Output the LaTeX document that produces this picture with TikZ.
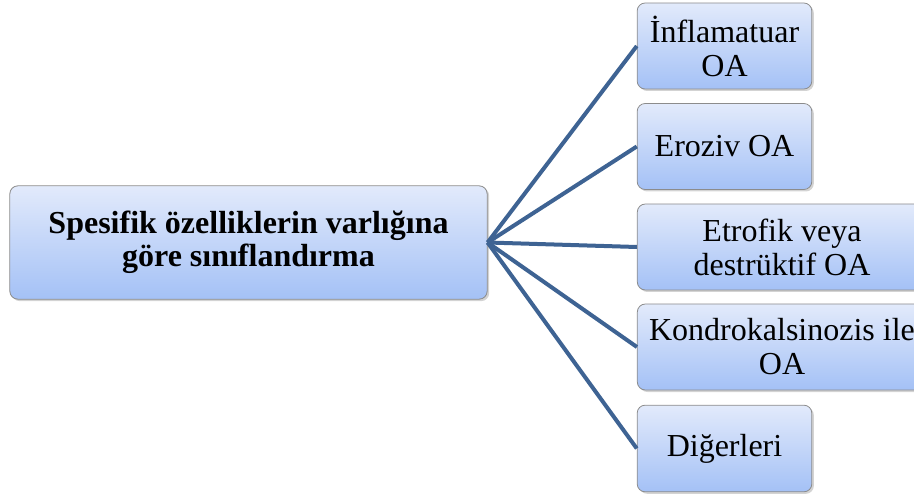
\documentclass[tikz,border=0pt]{standalone}
\usepackage{fontspec}
\setmainfont{Liberation Serif}
\usetikzlibrary{shadows}
\tikzset{
  oabox/.style={draw={rgb, 255:red, 140; green, 140; blue, 140 }, line width=0.6pt, rounded corners=6pt,
    top color={rgb, 255:red, 226; green, 234; blue, 251 }, bottom color={rgb, 255:red, 164; green, 193; blue, 246 },
    drop shadow={shadow xshift=1.5pt, shadow yshift=-1.5pt, opacity=0.35},
    align=center, inner sep=0pt, font=\fontsize{24}{25.5}\selectfont},
  oaline/.style={draw={rgb, 255:red, 62; green, 99; blue, 147 }, line width=3pt}
}
\begin{document}
\begin{tikzpicture}[x=0.75pt,y=0.75pt,yscale=-1,xscale=1]
\useasboundingbox (0,0) rectangle (914,495);
\clip (0,0) rectangle (914,495);
% Text Node
\node [oabox, minimum width=358pt, minimum height=85pt, font=\bfseries\fontsize{24}{25}\selectfont] (main) at (248.5,242.5) {Spesifik özelliklerin varlığına\\göre sınıflandırma};
% Text Node
\node [oabox, minimum width=131pt, minimum height=64.5pt] (inf) at (724.5,46) {İnflamatuar\\OA};
% Text Node
\node [oabox, minimum width=131pt, minimum height=64.5pt] (ero) at (724.5,146.5) {Eroziv OA};
% Text Node
\node [oabox, minimum width=217pt, minimum height=64.5pt] (etr) at (782,247) {Etrofik veya\\destrüktif OA};
% Text Node
\node [oabox, minimum width=217pt, minimum height=64.5pt] (kon) at (782,347) {Kondrokalsinozis ile\\OA};
% Text Node
\node [oabox, minimum width=131pt, minimum height=65pt] (dig) at (724.5,448.5) {Diğerleri};

\draw [oaline]   (main.east) -- (inf.west) ;
\draw [oaline]   (main.east) -- (ero.west) ;
\draw [oaline]   (main.east) -- (etr.west) ;
\draw [oaline]   (main.east) -- (kon.west) ;
\draw [oaline]   (main.east) -- (dig.west) ;
\end{tikzpicture}
\end{document}
